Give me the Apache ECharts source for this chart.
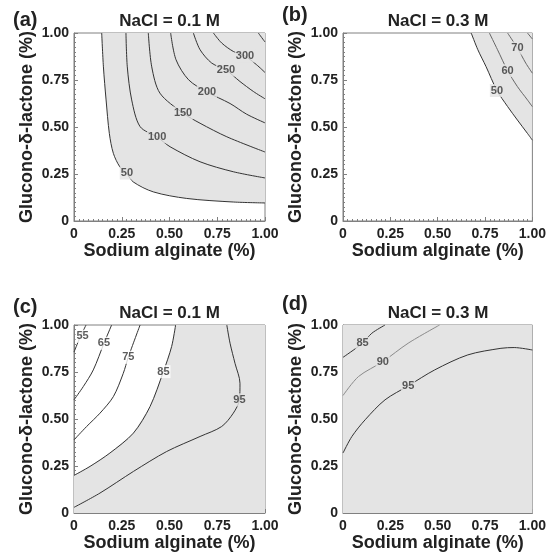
<!DOCTYPE html>
<html>
<head>
<meta charset="utf-8">
<script src="https://cdn.jsdelivr.net/npm/echarts@6/dist/echarts.min.js"></script>
<style>
html, body { margin: 0; padding: 0; background: #fff; }
#chart { width: 549px; height: 560px; }
</style>
</head>
<body>
<div id="chart"></div>
<script>
// tick labels (both axes)
var tickValues = [0, 0.25, 0.5, 0.75, 1];
var tickLabels = ['0', '0.25', '0.50', '0.75', '1.00'];

// (a) NaCl = 0.1 M, contour lines [sodium alginate, GDL]
var a50 = [[0.145, 1.0], [0.154, 0.82], [0.168, 0.644], [0.185, 0.466], [0.206, 0.36], [0.24, 0.288], [0.276, 0.253], [0.31, 0.208], [0.415, 0.155], [0.59, 0.12], [0.834, 0.101], [1.0, 0.096]];
var a100 = [[0.272, 1.0], [0.279, 0.82], [0.302, 0.644], [0.346, 0.502], [0.435, 0.447], [0.503, 0.395], [0.66, 0.315], [0.834, 0.262], [1.0, 0.229]];
var a150 = [[0.389, 1.0], [0.407, 0.82], [0.45, 0.68], [0.571, 0.574], [0.66, 0.52], [0.8, 0.448], [1.0, 0.367]];
var a200 = [[0.506, 1.0], [0.534, 0.858], [0.6, 0.751], [0.696, 0.686], [0.817, 0.625], [0.904, 0.568], [1.0, 0.522]];
var a250 = [[0.625, 1.0], [0.66, 0.911], [0.721, 0.84], [0.796, 0.803], [0.869, 0.742], [0.939, 0.689], [1.0, 0.65]];
var a300 = [[0.73, 1.0], [0.773, 0.947], [0.834, 0.902], [0.895, 0.878], [0.956, 0.831], [1.0, 0.79]];
var a350 = [[0.965, 1.0], [1.0, 0.952]];
var aLabels = [[0.277, 0.255, '50'], [0.435, 0.447, '100'], [0.571, 0.574, '150'], [0.696, 0.686, '200'], [0.796, 0.803, '250'], [0.895, 0.878, '300']];

// (b) NaCl = 0.3 M
var b50 = [[0.677, 1.0], [0.712, 0.911], [0.755, 0.822], [0.813, 0.694], [0.869, 0.609], [0.921, 0.537], [0.974, 0.466], [1.0, 0.43]];
var b60 = [[0.773, 1.0], [0.816, 0.911], [0.869, 0.80], [0.921, 0.715], [0.974, 0.644], [1.0, 0.608]];
var b70 = [[0.869, 1.0], [0.921, 0.92], [0.965, 0.84], [1.0, 0.786]];
var b80 = [[0.974, 1.0], [1.0, 0.968]];
var bLabels = [[0.813, 0.694, '50'], [0.869, 0.80, '60'], [0.921, 0.92, '70']];

// (c) NaCl = 0.1 M
var c55 = [[0, 0.856], [0.03, 0.93], [0.063, 1.0]];
var c65 = [[0, 0.602], [0.049, 0.673], [0.101, 0.761], [0.157, 0.903], [0.197, 1.0]];
var c75 = [[0, 0.389], [0.066, 0.46], [0.136, 0.531], [0.206, 0.619], [0.258, 0.743], [0.284, 0.828], [0.346, 1.0]];
var c85 = [[0, 0.2], [0.084, 0.248], [0.188, 0.319], [0.311, 0.425], [0.398, 0.566], [0.468, 0.752], [0.511, 0.885], [0.532, 1.0]];
var c95 = [[0, 0.03], [0.136, 0.106], [0.311, 0.221], [0.485, 0.327], [0.66, 0.407], [0.773, 0.46], [0.834, 0.531], [0.866, 0.602], [0.869, 0.69], [0.843, 0.796], [0.817, 0.903], [0.8, 1.0]];
var cLabels = [[0.045, 0.94, '55'], [0.157, 0.903, '65'], [0.284, 0.828, '75'], [0.468, 0.752, '85'], [0.866, 0.602, '95']];

// (d) NaCl = 0.3 M
var d85 = [[0, 0.828], [0.103, 0.903], [0.152, 0.956], [0.222, 1.0]];
var d90 = [[0, 0.625], [0.082, 0.726], [0.21, 0.805], [0.344, 0.903], [0.51, 1.0]];
var d95 = [[0, 0.319], [0.047, 0.407], [0.117, 0.496], [0.222, 0.602], [0.344, 0.676], [0.484, 0.761], [0.659, 0.841], [0.834, 0.876], [0.904, 0.88], [1.0, 0.867]];
var dLabels = [[0.103, 0.903, '85'], [0.21, 0.805, '90'], [0.344, 0.676, '95']];

var fillColor = '#e4e4e4';
var dark = '#333';
var light = '#8a8a8a';
var font = 'Liberation Sans, Arial, sans-serif';

var panels = [
    { letter: '(a)', title: 'NaCl = 0.1 M', left: 74, top: 33, width: 191, letterTop: 10,
      fill: a50.concat([[1, 1]]),
      lines: [[a50, dark], [a100, dark], [a150, dark], [a200, dark], [a250, dark], [a300, dark], [a350, dark]],
      labels: aLabels, labelBg: function (v) { return fillColor; } },
    { letter: '(b)', title: 'NaCl = 0.3 M', left: 343, top: 33, width: 190, letterTop: 5,
      fill: b50.concat([[1, 1]]),
      lines: [[b50, dark], [b60, '#666'], [b70, '#666'], [b80, '#666']],
      labels: bLabels, labelBg: function (v) { return fillColor; } },
    { letter: '(c)', title: 'NaCl = 0.1 M', left: 74, top: 325, width: 191, letterTop: 297,
      fill: c85.concat([[1, 1], [1, 0], [0, 0]]),
      lines: [[c55, dark], [c65, dark], [c75, dark], [c85, dark], [c95, dark]],
      labels: cLabels, labelBg: function (v) { return v < 90 ? '#fff' : fillColor; } },
    { letter: '(d)', title: 'NaCl = 0.3 M', left: 343, top: 325, width: 190, letterTop: 294,
      fill: [[0, 0], [1, 0], [1, 1], [0, 1]],
      lines: [[d85, dark], [d90, light], [d95, dark]],
      labels: dLabels, labelBg: function (v) { return fillColor; } }
];

var myChart = echarts.init(document.getElementById('chart'));

var grids = [], xAxes = [], yAxes = [], series = [], titles = [];

function labelFmt(v) {
    var i = tickValues.indexOf(Math.round(v * 100) / 100);
    return i >= 0 ? tickLabels[i] : '';
}

for (var i = 0; i < panels.length; i++) {
    var p = panels[i];
    grids.push({ left: p.left, top: p.top, width: p.width, height: 188, show: true,
                 backgroundColor: '#fff', borderColor: '#808080', borderWidth: 1 });
    var axisCommon = {
        gridIndex: i, type: 'value', min: 0, max: 1, interval: 0.25,
        nameLocation: 'middle',
        nameTextStyle: { fontSize: 18, fontWeight: 'bold', color: '#222', fontFamily: font },
        axisLine: { show: true, lineStyle: { color: '#808080', width: 1 } },
        axisTick: { show: true, inside: true, length: 4, lineStyle: { color: '#808080' } },
        minorTick: { show: true, splitNumber: 10, length: 2, lineStyle: { color: '#808080' } },
        splitLine: { show: false },
        axisLabel: { fontSize: 14, fontWeight: 'bold', color: '#222', fontFamily: font, formatter: labelFmt }
    };
    xAxes.push(Object.assign({}, axisCommon, {
        name: 'Sodium alginate (%)', nameGap: 20,
        axisLabel: Object.assign({}, axisCommon.axisLabel, { margin: 6 })
    }));
    yAxes.push(Object.assign({}, axisCommon, {
        name: 'Glucono-δ-lactone (%)', nameGap: 38,
        axisLabel: Object.assign({}, axisCommon.axisLabel, { margin: 5 })
    }));

    titles.push({ text: p.title, left: p.left + p.width / 2, top: p.top - 20, textAlign: 'center', padding: 0,
                  textStyle: { fontSize: 17, fontWeight: 'bold', color: '#222', fontFamily: font } });
    titles.push({ text: p.letter, left: p.left - 61, top: p.letterTop, padding: 0,
                  textStyle: { fontSize: 20, fontWeight: 'bold', color: '#222', fontFamily: font } });

    (function (poly) {
        series.push({
            type: 'custom', xAxisIndex: i, yAxisIndex: i, silent: true, clip: true, z: 1,
            data: [[0, 0]],
            renderItem: function (params, api) {
                var pts = poly.map(function (q) { return api.coord(q); });
                return { type: 'polygon', shape: { points: pts }, style: { fill: fillColor } };
            }
        });
    })(p.fill);

    p.lines.forEach(function (ln) {
        series.push({
            type: 'line', xAxisIndex: i, yAxisIndex: i, data: ln[0], smooth: 0.3,
            symbol: 'none', silent: true, z: 2,
            lineStyle: { color: ln[1], width: 1 }
        });
    });

    var lblData = p.labels.map(function (l) {
        return {
            value: [l[0], l[1], l[2]],
            label: { backgroundColor: p.labelBg(+l[2]) }
        };
    });
    series.push({
        type: 'scatter', xAxisIndex: i, yAxisIndex: i, data: lblData, symbolSize: 1,
        itemStyle: { color: 'rgba(0,0,0,0)' }, silent: true, z: 3,
        label: { show: true, position: 'inside', fontSize: 11, fontWeight: 'bold', color: '#333',
                 fontFamily: font, padding: [1, 1],
                 formatter: function (q) { return q.value[2]; } }
    });
}

var option = {
    animation: false,
    title: titles,
    grid: grids,
    xAxis: xAxes,
    yAxis: yAxes,
    series: series
};

option && myChart.setOption(option);
</script>
</body>
</html>
